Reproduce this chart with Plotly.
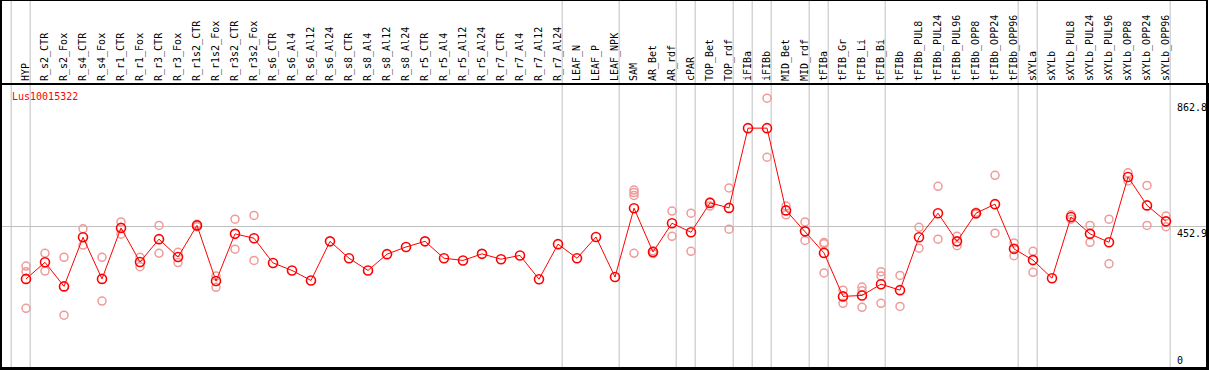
import plotly.graph_objects as go

categories = ["HYP", "R_s2_CTR", "R_s2_Fox", "R_s4_CTR", "R_s4_Fox", "R_r1_CTR", "R_r1_Fox",
              "R_r3_CTR", "R_r3_Fox", "R_r1s2_CTR", "R_r1s2_Fox", "R_r3s2_CTR", "R_r3s2_Fox",
              "R_s6_CTR", "R_s6_Al4", "R_s6_Al12", "R_s6_Al24", "R_s8_CTR", "R_s8_Al4",
              "R_s8_Al12", "R_s8_Al24", "R_r5_CTR", "R_r5_Al4", "R_r5_Al12", "R_r5_Al24",
              "R_r7_CTR", "R_r7_Al4", "R_r7_Al12", "R_r7_Al24", "LEAF_N", "LEAF_P", "LEAF_NPK",
              "SAM", "AR_Bet", "AR_rdf", "cPAR", "TOP_Bet", "TOP_rdf", "iFIBa", "iFIBb",
              "MID_Bet", "MID_rdf", "tFIBa", "tFIB_Gr", "tFIB_Li", "tFIB_Bi", "tFIBb",
              "tFIBb_PUL8", "tFIBb_PUL24", "tFIBb_PUL96", "tFIBb_OPP8", "tFIBb_OPP24",
              "tFIBb_OPP96", "sXYLa", "sXYLb", "sXYLb_PUL8", "sXYLb_PUL24", "sXYLb_PUL96",
              "sXYLb_OPP8", "sXYLb_OPP24", "sXYLb_OPP96"]

mean_values = [285, 338, 261, 418, 285, 448, 339, 412, 355, 456, 278, 429, 415,
               336, 312, 280, 405, 351, 312, 364, 387, 405, 351, 344, 365,
               348, 360, 284, 396, 351, 419, 291,
               511, 371, 463, 434, 528, 512, 767, 767, 504, 437, 368, 229, 232, 268, 249,
               418, 495, 405, 495, 524, 381, 345, 287, 483, 429, 402, 611, 520, 469]

replicates = [[326, 308, 191], [367, 310], [354, 169], [445, 393], [354, 214], [467, 428],
              [354, 324], [456, 367], [370, 337], [460, 452], [294, 258], [476, 380], [488, 344],
              [], [], [], [], [], [], [], [], [], [], [], [], [], [], [], [], [], [], [],
              [569, 561, 552, 367], [375, 366], [502, 421], [495, 373], [531, 518], [576, 444],
              [], [862.8, 674], [518, 490], [467, 408], [401, 397, 304], [249, 207],
              [259, 247, 194], [308, 294, 207], [296, 197], [450, 383], [581, 412], [421, 391],
              [498, 492], [616, 431], [400, 359], [373, 306], [], [490, 476], [456, 402],
              [476, 333], [624, 598], [584, 456], [486, 452]]

group_ends = [0, 1, 29, 32, 35, 36, 38, 39, 40, 42, 43, 46, 53, 54, 61]
y_tick_values = [862.8, 452.9, 0]
y_tick_labels = ["862.8", "452.9", "0"]
gene_name = "Lus10015322"

x_idx = list(range(1, len(categories) + 1))
rep_x, rep_y = [], []
for i, reps in zip(x_idx, replicates):
    for r in reps:
        rep_x.append(i)
        rep_y.append(r)

mono = "DejaVu Sans Mono"

fig = go.Figure()
fig.add_trace(go.Scatter(x=rep_x, y=rep_y, mode="markers",
                         marker=dict(symbol="circle-open", size=8, color="#f09a9a",
                                     line=dict(width=1.5, color="#f09a9a")),
                         hoverinfo="skip", showlegend=False))
fig.add_trace(go.Scatter(x=x_idx, y=mean_values, mode="lines+markers",
                         line=dict(color="#ff0000", width=1),
                         marker=dict(symbol="circle-open", size=9, color="#ff0000",
                                     line=dict(width=1.6, color="#ff0000")),
                         showlegend=False))

H_PLOT = 283.0
top_paper = 1 + 85.0 / H_PLOT

shapes = []
for g in group_ends:
    shapes.append(dict(type="line", xref="x", yref="paper", x0=g + 0.22, x1=g + 0.22,
                       y0=0, y1=top_paper, line=dict(color="#c0c0c0", width=1), layer="below"))
shapes.append(dict(type="rect", xref="paper", yref="paper", x0=0, x1=1, y0=0, y1=top_paper,
                   line=dict(color="black", width=2)))

annotations = [dict(text=gene_name, xref="paper", yref="paper", x=9 / 1206, y=1,
                    xanchor="left", yanchor="top", yshift=-4, showarrow=False,
                    font=dict(family=mono, size=10, color="#ff0000"))]
for v, t in zip(y_tick_values, y_tick_labels):
    annotations.append(dict(text=t, xref="paper", yref="y", x=1174 / 1206, y=v,
                            xanchor="left", yanchor="bottom" if v == 0 else "top",
                            yshift=-2 if v > 800 else 0,
                            showarrow=False, font=dict(family=mono, size=10, color="black")))

fig.update_layout(
    width=1209, height=370,
    margin=dict(l=1, r=2, t=85, b=2),
    paper_bgcolor="white", plot_bgcolor="white",
    shapes=shapes, annotations=annotations,
    xaxis=dict(range=[1 - 25 / 19, 1 + (1207 - 26) / 19], tickmode="array",
               tickvals=x_idx, ticktext=categories, side="top", tickangle=-90,
               tickfont=dict(family=mono, size=10, color="black"),
               showgrid=False, zeroline=False, ticks="",
               showline=True, linecolor="black", linewidth=2, mirror=True),
    yaxis=dict(range=[0, 905], tickmode="array", tickvals=[452.9], showticklabels=False,
               showgrid=True, gridcolor="#c0c0c0", gridwidth=1, zeroline=False, ticks="",
               showline=True, linecolor="black", linewidth=2, mirror=True),
)

fig.write_html("out.html", config={"displayModeBar": False},
               post_script="document.body.style.margin='0';document.body.style.overflow='hidden';")
